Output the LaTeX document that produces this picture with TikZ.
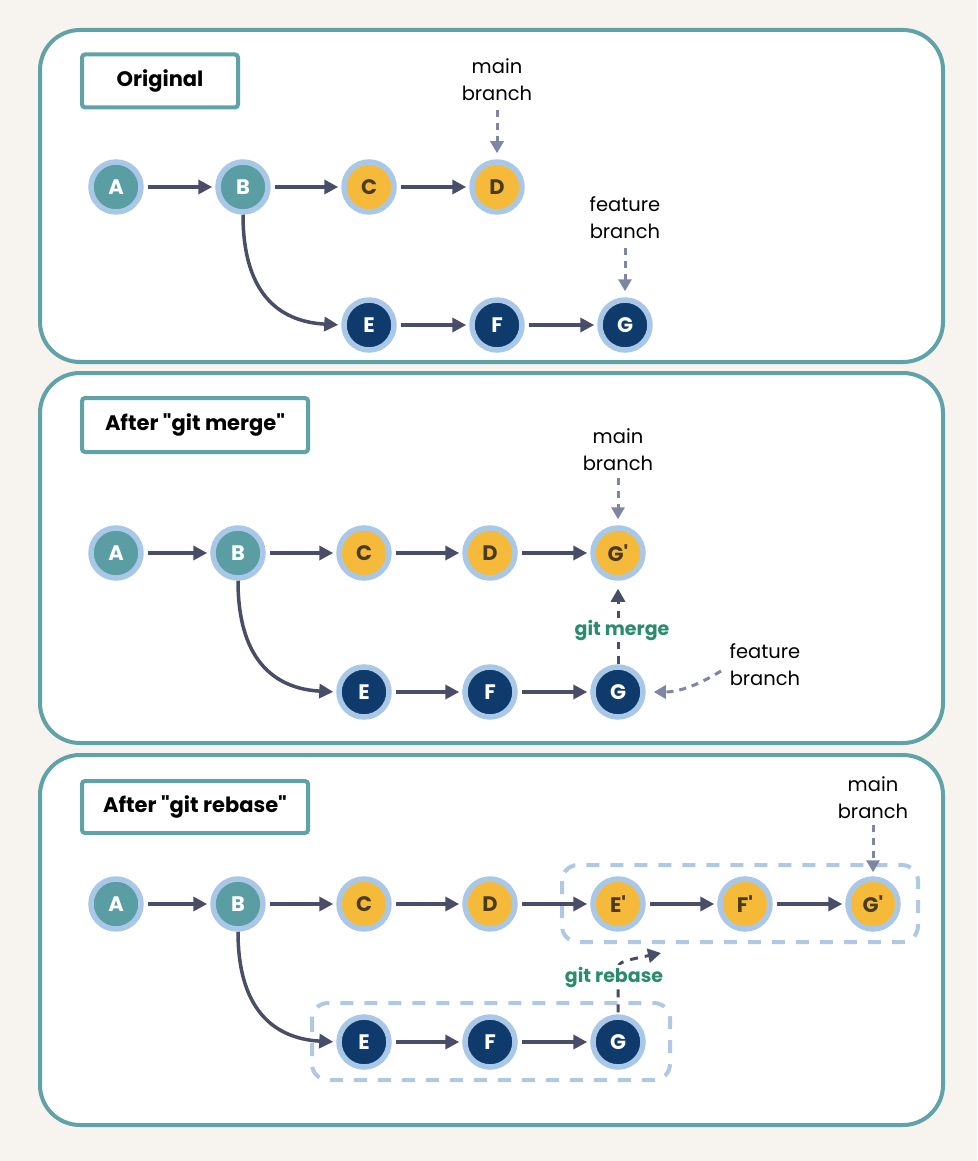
\documentclass[tikz,border=0pt]{standalone}
\usepackage{fontspec}
% a family declared this way keeps straight quote marks as typed
\newfontfamily\diagfont{Poppins}
\usetikzlibrary{arrows.meta}
\definecolor{paper}{HTML}{F7F4EF}
\definecolor{frame}{HTML}{5FA3A8}
\definecolor{tealc}{HTML}{5A9EA3}
\definecolor{ring}{HTML}{A9C8E8}
\definecolor{gold}{HTML}{F6BA3B}
\definecolor{navy}{HTML}{0E3B6B}
\definecolor{goldtext}{HTML}{4A3B1E}
\definecolor{linkc}{HTML}{494D68}
\definecolor{pointer}{HTML}{7E86A3}
\definecolor{gitgreen}{HTML}{2A8C6A}
\definecolor{groupc}{HTML}{AFC8E3}
\tikzset{
  panel/.style={draw=frame, line width=4, rounded corners=40, fill=white},
  titlebox/.style={draw=frame, line width=4, rounded corners=3, fill=white},
  titletext/.style={font=\diagfont\fontsize{21}{25}\selectfont\bfseries},
  commit/.style={circle, minimum size=50, inner sep=0, draw=ring, line width=5.5,
    font=\diagfont\fontsize{21}{21}\selectfont\bfseries},
  basec/.style={commit, fill=tealc, text=white},
  mainc/.style={commit, fill=gold, text=goldtext},
  featc/.style={commit, fill=navy, text=white},
  link/.style={draw=linkc, line width=3.5, -{Triangle[length=14,width=14]},
    shorten <=4, shorten >=3},
  pointerline/.style={draw=pointer, line width=3, dash pattern=on 7 off 6,
    -{Triangle[length=12,width=13]}},
  branchlabel/.style={align=center, font=\diagfont\fontsize{19.5}{27}\selectfont},
  gitlabel/.style={font=\diagfont\fontsize{19}{22}\selectfont\bfseries, text=gitgreen,
    fill=white, inner sep=2},
  group/.style={draw=groupc, line width=4, dash pattern=on 13 off 11, rounded corners=16},
}
\begin{document}
\diagfont
\begin{tikzpicture}[x=1pt, y=-1pt]
\useasboundingbox (0,0) rectangle (977,1161);
\fill[paper] (0,0) rectangle (977,1161);

% ---------- panel 1: original history ----------
\draw[panel] (40,30) rectangle (943,362);
\node[titlebox, minimum width=156, minimum height=53] (t1) at (160,81) {};
\node[titletext] at (t1) {Original};

\node[basec] (a1) at (116,187) {A};
\node[basec] (b1) at (243,187) {B};
\node[mainc] (c1) at (369,187) {C};
\node[mainc] (d1) at (497,187) {D};
\node[featc] (e1) at (369,325) {E};
\node[featc] (f1) at (497,325) {F};
\node[featc] (g1) at (625,325) {G};
\draw[link] (a1) -- (b1);
\draw[link] (b1) -- (c1);
\draw[link] (c1) -- (d1);
\draw[link] (e1) -- (f1);
\draw[link] (f1) -- (g1);
\draw[link, shorten <=0] (b1.south) .. controls (243,300) and (285,322) .. (e1.west);

\node[branchlabel] (m1) at (497,80) {main\\branch};
\coordinate (m1p) at (497,110);
\draw[pointerline] (m1p) -- ([yshift=6]d1.north);
\node[branchlabel] (fb1) at (625,218) {feature\\branch};
\coordinate (fb1p) at (625,248);
\draw[pointerline] (fb1p) -- ([yshift=6]g1.north);

% ---------- panel 2: after merge ----------
\draw[panel] (40,373) rectangle (943,743);
\node[titlebox, minimum width=226, minimum height=54] (t2) at (195,425) {};
\node[titletext] at (t2) {After "git merge"};

\node[basec] (a2) at (116,553) {A};
\node[basec] (b2) at (238,553) {B};
\node[mainc] (c2) at (364,553) {C};
\node[mainc] (d2) at (490,553) {D};
\node[mainc] (gm2) at (618,553) {G'};
\node[featc] (e2) at (364,692) {E};
\node[featc] (f2) at (490,692) {F};
\node[featc] (g2) at (618,692) {G};
\draw[link] (a2) -- (b2);
\draw[link] (b2) -- (c2);
\draw[link] (c2) -- (d2);
\draw[link] (d2) -- (gm2);
\draw[link] (e2) -- (f2);
\draw[link] (f2) -- (g2);
\draw[link, shorten <=0] (b2.south) .. controls (238,666) and (280,689) .. (e2.west);

\draw[draw=linkc, line width=3, dash pattern=on 8 off 7, -{Triangle[length=13,width=14]},
  shorten >=8] (g2.north) -- (gm2.south);
\node[gitlabel] (gmlab) at (622,630) {git merge};

\node[branchlabel] (m2) at (618,450) {main\\branch};
\coordinate (m2p) at (618,478);
\draw[pointerline] (m2p) -- ([yshift=6]gm2.north);
\node[branchlabel] (fb2) at (765,665) {feature\\branch};
\coordinate (fb2p) at (721,671);
\draw[pointerline, shorten >=8] (fb2p) .. controls (700,684) and (680,692) .. (g2.east);

% ---------- panel 3: after rebase ----------
\draw[panel] (40,755) rectangle (943,1125);
\node[titlebox, minimum width=226, minimum height=52] (t3) at (195,807) {};
\node[titletext] at (t3) {After "git rebase"};

\draw[group] (562,865) rectangle (918,942);
\draw[group] (312,1003) rectangle (670,1080);

\node[basec] (a3) at (116,904) {A};
\node[basec] (b3) at (238,904) {B};
\node[mainc] (c3) at (364,904) {C};
\node[mainc] (d3) at (490,904) {D};
\node[mainc] (ep3) at (618,904) {E'};
\node[mainc] (fp3) at (745,904) {F'};
\node[mainc] (gp3) at (873,904) {G'};
\node[featc] (e3) at (364,1042) {E};
\node[featc] (f3) at (490,1042) {F};
\node[featc] (g3) at (618,1042) {G};
\draw[link] (a3) -- (b3);
\draw[link] (b3) -- (c3);
\draw[link] (c3) -- (d3);
\draw[link] (d3) -- (ep3);
\draw[link] (ep3) -- (fp3);
\draw[link] (fp3) -- (gp3);
\draw[link] (e3) -- (f3);
\draw[link] (f3) -- (g3);
\draw[link, shorten <=0] (b3.south) .. controls (238,1016) and (280,1039) .. (e3.west);

\coordinate (rb3) at (661,953);
\draw[draw=linkc, line width=3, dash pattern=on 8 off 7, -{Triangle[length=13,width=14]},
  shorten <=2] (g3.north) -- (618,972) .. controls (618,962) .. (rb3);
\node[gitlabel] (rblab) at (614,977) {git rebase};

\node[branchlabel] (m3) at (873,798) {main\\branch};
\coordinate (m3p) at (873,825);
\draw[pointerline] (m3p) -- ([yshift=4]gp3.north);
\end{tikzpicture}
\end{document}
